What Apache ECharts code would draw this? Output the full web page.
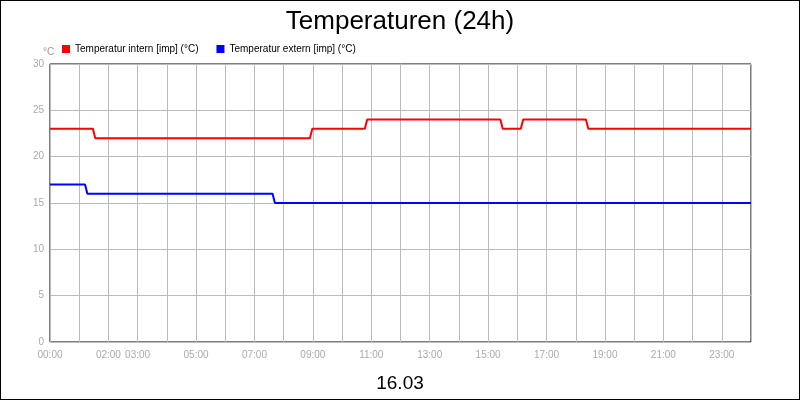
<!DOCTYPE html>
<html><head><meta charset="utf-8">
<script src="https://cdn.jsdelivr.net/npm/echarts@6/dist/echarts.min.js"></script>
<style>html,body{margin:0;padding:0;background:#fff}#c{width:798px;height:398px;border:1px solid #000}</style>
</head><body><div id="c"></div>
<script>
const labelHours = [0,2,3,5,7,9,11,13,15,17,19,21,23];
const internTimes = [0,1.47,1.55,8.9,8.98,10.78,10.86,15.42,15.5,16.12,16.2,18.35,18.43,24];
const internValues = [23,23,22,22,23,23,24,24,23,23,24,24,23,23];
const externTimes = [0,1.2,1.28,7.62,7.7,24];
const externValues = [17,17,16,16,15,15];
const pair=(t,v)=>t.map((x,i)=>[x,v[i]]);
const F='Liberation Sans';
const chart=echarts.init(document.getElementById('c'));
chart.setOption({
  animation:false,
  title:[{text:'Temperaturen (24h)',left:'center',top:3,textStyle:{fontFamily:F,fontWeight:'normal',fontSize:26,color:'#000'}},
         {text:'16.03',left:'center',top:368,textStyle:{fontFamily:F,fontWeight:'normal',fontSize:19,color:'#000'}},
         {text:'°C',left:37,top:41,textStyle:{fontFamily:F,fontWeight:'normal',fontSize:10,color:'#999'}}],
  legend:{left:56,top:38,itemWidth:8,itemHeight:8,itemGap:18,icon:'rect',textStyle:{fontFamily:F,fontSize:10,color:'#000'},
    data:['Temperatur intern [imp] (°C)','Temperatur extern [imp] (°C)']},
  grid:{left:49,right:48,top:63,bottom:57,show:true,borderColor:'#000',borderWidth:1},
  xAxis:{type:'value',min:0,max:24,interval:1,
    axisLine:{show:false},axisTick:{show:false},
    splitLine:{lineStyle:{color:'#bbb'}},
    axisLabel:{fontFamily:F,fontSize:10,color:'#aaa',formatter:v=>labelHours.includes(v)?String(v).padStart(2,'0')+':00':''}},
  yAxis:{type:'value',min:0,max:30,interval:5,
    axisLine:{show:false},axisTick:{show:false},
    splitLine:{lineStyle:{color:'#bbb'}},
    axisLabel:{fontFamily:F,fontSize:10,color:'#aaa',margin:6}},
  series:[
    {name:'Temperatur intern [imp] (°C)',type:'line',data:pair(internTimes,internValues),showSymbol:false,color:'#ff0000',lineStyle:{width:2}},
    {name:'Temperatur extern [imp] (°C)',type:'line',data:pair(externTimes,externValues),showSymbol:false,color:'#0000ff',lineStyle:{width:2}}
  ]
});
</script></body></html>
